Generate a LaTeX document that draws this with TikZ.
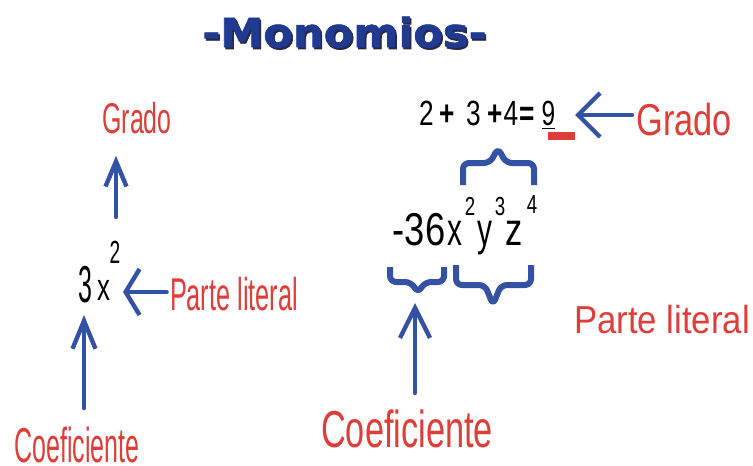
\documentclass[tikz,border=0pt]{standalone}
\usepackage{fontspec}
\setmainfont{Liberation Sans}
\newfontfamily\titlefont{DejaVu Sans}[BoldFeatures={FakeBold=1.5}]
\usetikzlibrary{arrows.meta}

\definecolor{lblred}{RGB}{221,62,58}
\definecolor{arrblue}{RGB}{52,82,163}
\definecolor{ttlblue}{RGB}{32,58,145}
\definecolor{ttlshadow}{RGB}{40,40,70}

\newcommand{\fsz}[1]{\fontsize{#1}{#1}\selectfont}
\newcommand{\sqz}[2]{\scalebox{#1}[1]{#2}}

\tikzset{
  lbl/.style={text=lblred, inner sep=0pt, anchor=base},
  mth/.style={text=black, inner sep=0pt, anchor=base},
  arr/.style 2 args={draw=arrblue, line width=2.2pt, line cap=round,
    -{Straight Barb[length=#1,width=#2]}},
  brc/.style={draw=arrblue, line width=3pt, rounded corners=3pt, line join=round},
  ttl/.style={inner sep=0pt, anchor=base, font={\titlefont\bfseries\fsz{20}}},
}

\begin{document}
\begin{tikzpicture}[x=0.5pt, y=-0.5pt]
\fill[white] (0,0) rectangle (753,465);
\useasboundingbox (0,0) rectangle (753,465);

% title
\node[ttl, text=ttlshadow] (ttlsh) at (346,49) {\sqz{1.08}{-Monomios-}};
\node[ttl, text=ttlblue] (ttl) at (344.5,47) {\sqz{1.08}{-Monomios-}};

% left monomial
\node[mth, font={\fsz{26}}] (numL) at (85,302) {\sqz{0.48}{3}};
\node[mth, font={\fsz{19}}] (varL) at (103.5,300) {\sqz{0.68}{x}};
\node[mth, font={\fsz{16}}] (supL) at (115,263) {\sqz{0.6}{2}};

\node[lbl, font={\fsz{21.5}}] (gradoL) at (137,133) {\sqz{0.58}{Grado}};
\node[lbl, font={\fsz{23}}] (parteL) at (234,310) {\sqz{0.55}{Parte literal}};
\node[lbl, font={\fsz{24.5}}] (coefL) at (77,462) {\sqz{0.51}{Coeficiente}};

\coordinate (gL) at (116,217);
\draw[arr={12.5pt}{10.5pt}, shorten >=11pt] (gL) -- (gL |- gradoL.south);
\coordinate (pL) at (123,292);
\draw[arr={7pt}{23pt}, shorten <=1.5pt] (parteL.west |- pL) -- (pL);
\coordinate (cL) at (84,315);
\draw[arr={14pt}{11.5pt}, shorten <=9pt] (coefL.north -| cL) -- (cL);

% right monomial
\foreach \t/\x [count=\i] in {2/426.5,\textbf{+}/447.5,3/473.5,\textbf{+}/495.5,4/511,\textbf{=}/527.5}
  \node[mth, font={\fsz{17.5}}] (eq\i) at (\x,125) {\sqz{0.75}{\t}};
\node[mth, font={\fsz{17.5}}] (nine) at (548.5,125) {\sqz{0.7}{\underline{9}}};
\fill[lblred] (548,132) rectangle (575,140);

\node[mth, font={\fsz{23}}] (numR) at (419,245) {\sqz{0.79}{-36}};
\node[mth, font={\fsz{23}}] (varX) at (454.5,245) {\sqz{0.65}{x}};
\node[mth, font={\fsz{23}}] (varY) at (485,245) {\sqz{0.65}{y}};
\node[mth, font={\fsz{23}}] (varZ) at (514,245) {\sqz{0.75}{z}};
\node[mth, font={\fsz{13}}] (supX) at (470,215) {\sqz{0.72}{2}};
\node[mth, font={\fsz{13}}] (supY) at (500,215) {\sqz{0.72}{3}};
\node[mth, font={\fsz{13}}] (supZ) at (532,213) {\sqz{0.72}{4}};

% braces
\draw[brc] (463,185) -- (463,163) -- (490,163) -- (498,148) -- (506,163) -- (534,163) -- (534,185);
\draw[brc] (390,267) -- (390,282) -- (411,282) -- (418,293) -- (425,282) -- (444,282) -- (444,267);
\draw[brc] (456,265) -- (456,285) -- (485,285) -- (493,305) -- (501,285) -- (531,285) -- (531,265);

\node[lbl, font={\fsz{22.3}}] (gradoR) at (684,135) {\sqz{0.77}{Grado}};
\node[lbl, font={\fsz{19.5}}] (parteR) at (662,333) {\sqz{0.89}{Parte literal}};
\node[lbl, font={\fsz{26}}] (coefR) at (407,447) {\sqz{0.66}{Coeficiente}};

\coordinate (gR) at (575,115);
\draw[arr={11pt}{22pt}, shorten <=2pt] (gradoR.west |- gR) -- (gR);
\coordinate (cR) at (415,303);
\draw[arr={15pt}{15pt}, shorten <=8pt] (coefR.north -| cR) -- (cR);
\end{tikzpicture}
\end{document}
